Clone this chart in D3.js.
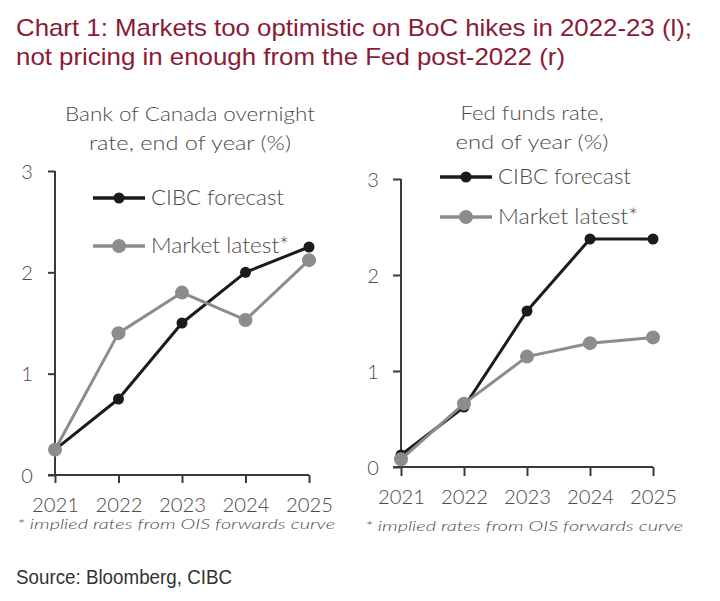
<!DOCTYPE html>
<html>
<head>
<meta charset="utf-8">
<script src="https://cdn.jsdelivr.net/npm/d3@7"></script>
<style>
  html, body { margin: 0; padding: 0; background: #ffffff; }
  svg { display: block; }
  .ct { font-family: Lato, "Open Sans", "DejaVu Sans", sans-serif; font-weight: 300; fill: #4a4a4a; }
</style>
</head>
<body>
<svg id="chart" width="720" height="601"></svg>
<script>
// ---------- data ----------
const years = ["2021", "2022", "2023", "2024", "2025"];
const yTicks = [0, 1, 2, 3];
const seriesNames = ["CIBC forecast", "Market latest*"];
const bocCIBC   = [0.25, 0.75, 1.50, 2.00, 2.25];
const bocMarket = [0.25, 1.40, 1.80, 1.53, 2.12];
const fedCIBC   = [0.125, 0.625, 1.625, 2.375, 2.375];
const fedMarket = [0.08, 0.66, 1.15, 1.29, 1.35];
const titleLines = ["Chart 1: Markets too optimistic on BoC hikes in 2022-23 (l);",
                    "not pricing in enough from the Fed post-2022 (r)"];
const leftTitle = ["Bank of Canada overnight", "rate, end of year (%)"];
const rightTitle = ["Fed funds rate,", "end of year (%)"];
const footnote = "* implied rates from OIS forwards curve";
const sourceText = "Source: Bloomberg, CIBC";

const colors = { cibc: "#1b1b1b", market: "#8c8c8c", axis: "#3a3a3a", title: "#8b1a34" };

const svg = d3.select("#chart");

// main title
titleLines.forEach((t, i) => {
  svg.append("text")
    .attr("x", 16).attr("y", 36 + i * 29)
    .attr("font-family", "'Liberation Sans', Arial, sans-serif")
    .attr("font-size", 24)
    .attr("fill", colors.title)
    .attr("textLength", i === 0 ? 676 : 549)
    .attr("lengthAdjust", "spacingAndGlyphs")
    .text(t);
});

// source
svg.append("text")
  .attr("x", 16).attr("y", 584)
  .attr("font-family", "'Liberation Sans', Arial, sans-serif")
  .attr("font-size", 21)
  .attr("fill", "#333")
  .attr("textLength", 216)
  .attr("lengthAdjust", "spacingAndGlyphs")
  .text(sourceText);

function panel(cfg) {
  const g = svg.append("g");
  const x = d3.scalePoint().domain(years).range([cfg.x0, cfg.x1]);
  const y = d3.scaleLinear().domain([0, 3]).range([cfg.y0, cfg.y3]);

  // panel title
  cfg.title.forEach((t, i) => {
    g.append("text").attr("class", "ct")
      .attr("x", cfg.titleX).attr("y", cfg.titleY + i * 28.5)
      .attr("text-anchor", "middle")
      .attr("font-size", 20)
      .attr("textLength", cfg.titleW[i])
      .attr("lengthAdjust", "spacingAndGlyphs")
      .text(t);
  });

  // y axis
  const yAxis = d3.axisLeft(y).tickValues(yTicks).tickSize(cfg.tick).tickPadding(0).tickFormat(d3.format("d"));
  const ya = g.append("g").attr("transform", `translate(${cfg.x0},0)`).call(yAxis);
  ya.select(".domain").attr("stroke", colors.axis).attr("stroke-width", 2)
    .attr("d", `M0,${cfg.y3}V${cfg.y0}`);
  ya.selectAll(".tick line").attr("stroke", colors.axis).attr("stroke-width", 2);
  ya.selectAll(".tick text").attr("class", "ct").attr("font-size", 20)
    .attr("text-anchor", "middle").attr("x", cfg.yLabelX - cfg.x0).attr("dy", "0.35em");

  // x axis
  const xAxis = d3.axisBottom(x).tickSize(cfg.xtick).tickPadding(0);
  const xa = g.append("g").attr("transform", `translate(0,${cfg.y0})`).call(xAxis);
  xa.select(".domain").attr("stroke", colors.axis).attr("stroke-width", 2)
    .attr("d", `M${cfg.x0 - cfg.tick},0H${cfg.x1}`);
  xa.selectAll(".tick line").attr("stroke", colors.axis).attr("stroke-width", 2);
  xa.selectAll(".tick text").attr("class", "ct").attr("font-size", 20)
    .attr("y", cfg.xLabelY - cfg.y0).attr("dy", "0.35em")
    .attr("textLength", 47).attr("lengthAdjust", "spacingAndGlyphs");

  // footnote
  g.append("text").attr("class", "ct")
    .attr("x", cfg.footX).attr("y", cfg.footY)
    .attr("font-size", 14.5).attr("font-style", "italic")
    .attr("textLength", 318).attr("lengthAdjust", "spacingAndGlyphs")
    .text(footnote);

  // series
  const line = d3.line().x((d, i) => x(years[i])).y(d => y(d));
  const series = [
    { vals: cfg.cibc, color: colors.cibc, r: 5.5 },
    { vals: cfg.market, color: colors.market, r: 7 }
  ];
  series.forEach(s => {
    g.append("path").datum(s.vals).attr("d", line)
      .attr("fill", "none").attr("stroke", s.color).attr("stroke-width", 3)
      .attr("stroke-linejoin", "round");
    g.selectAll(null).data(s.vals).enter().append("circle")
      .attr("cx", (d, i) => x(years[i])).attr("cy", d => y(d))
      .attr("r", s.r).attr("fill", s.color);
  });

  // legend
  seriesNames.forEach((name, i) => {
    const s = series[i];
    const ly = cfg.legY[i];
    g.append("line").attr("x1", cfg.legX0).attr("x2", cfg.legX1)
      .attr("y1", ly).attr("y2", ly)
      .attr("stroke", s.color).attr("stroke-width", 3.5);
    g.append("circle").attr("cx", (cfg.legX0 + cfg.legX1) / 2).attr("cy", ly)
      .attr("r", s.r).attr("fill", s.color);
    g.append("text").attr("class", "ct")
      .attr("x", cfg.legX1 + 6).attr("y", ly).attr("dy", "0.35em")
      .attr("font-size", 21)
      .attr("textLength", cfg.legW[i]).attr("lengthAdjust", "spacingAndGlyphs")
      .text(name);
  });
}

panel({
  x0: 55, x1: 309, y0: 475, y3: 171, tick: 7, xtick: 8,
  yLabelX: 27, xLabelY: 505,
  title: leftTitle, titleX: 190, titleY: 121, titleW: [250, 202],
  footX: 17, footY: 529,
  cibc: bocCIBC, market: bocMarket,
  legX0: 93, legX1: 145, legY: [198, 246], legW: [133, 138]
});

panel({
  x0: 401, x1: 653, y0: 467, y3: 179, tick: 8, xtick: 9,
  yLabelX: 373, xLabelY: 497,
  title: rightTitle, titleX: 532, titleY: 120, titleW: [143, 153],
  footX: 365, footY: 531,
  cibc: fedCIBC, market: fedMarket,
  legX0: 440, legX1: 492, legY: [177, 217], legW: [133, 140]
});
</script>
</body>
</html>
